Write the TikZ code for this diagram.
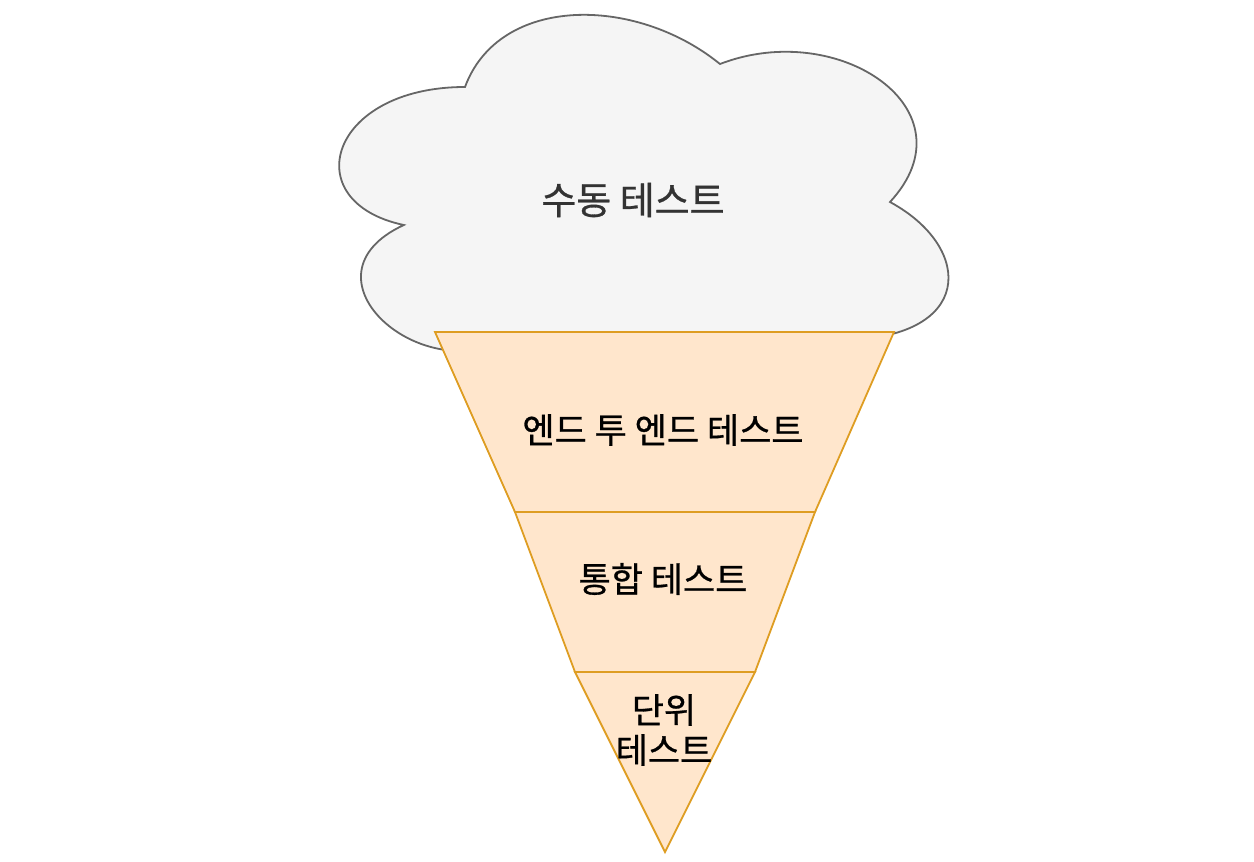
\documentclass[tikz,border=0pt]{standalone}
\usepackage{fontspec}
\setmainfont{Noto Sans CJK KR}[FakeBold=0.8]
\definecolor{cloudfill}{HTML}{F5F5F5}
\definecolor{cloudline}{HTML}{666666}
\definecolor{conefill}{HTML}{FFE6CC}
\definecolor{coneline}{HTML}{DE9D22}
\definecolor{darktext}{HTML}{333333}
\begin{document}
\begin{tikzpicture}[x=1pt,y=-1pt,
  cloudshape/.style={fill=cloudfill,draw=cloudline,line width=1.8pt},
  conepart/.style={fill=conefill,draw=coneline,line width=1.8pt,line join=miter},
  lbl/.style={font=\fontsize{35}{40}\selectfont,align=center,inner sep=0pt}]
\useasboundingbox (0,0) rectangle (1254,862);
% cloud (draw.io cloud shape, box x0=295,y0=-28,w=680,h=460)
\def\cw{680}\def\ch{460}
\begin{scope}[shift={(295,-28)}]
\draw[cloudshape] (0.25*\cw,0.25*\ch)
  .. controls (0.05*\cw,0.25*\ch) and (0,0.5*\ch) .. (0.16*\cw,0.55*\ch)
  .. controls (0,0.66*\ch) and (0.18*\cw,0.9*\ch) .. (0.31*\cw,0.8*\ch)
  .. controls (0.4*\cw,\ch) and (0.7*\cw,\ch) .. (0.8*\cw,0.8*\ch)
  .. controls (\cw,0.8*\ch) and (\cw,0.6*\ch) .. (0.875*\cw,0.5*\ch)
  .. controls (\cw,0.3*\ch) and (0.8*\cw,0.1*\ch) .. (0.625*\cw,0.2*\ch)
  .. controls (0.5*\cw,0.05*\ch) and (0.3*\cw,0.05*\ch) .. (0.25*\cw,0.25*\ch)
  -- cycle;
\end{scope}
\node[lbl,text=darktext,font=\fontsize{38}{40}\selectfont] (manual) at (633,200) {수동 테스트};
% cone
\draw[conepart] (435,332) -- (894,332) -- (815,512) -- (515,512) -- cycle;
\draw[conepart] (515,512) -- (815,512) -- (755,672) -- (575,672) -- cycle;
\draw[conepart] (575,672) -- (755,672) -- (665,852) -- cycle;
\node[lbl] (e2e) at (663,430) {엔드 투 엔드 테스트};
\node[lbl] (integ) at (663,579) {통합 테스트};
\node[lbl] (unit) at (664,730) {단위\\테스트};
\end{tikzpicture}
\end{document}
